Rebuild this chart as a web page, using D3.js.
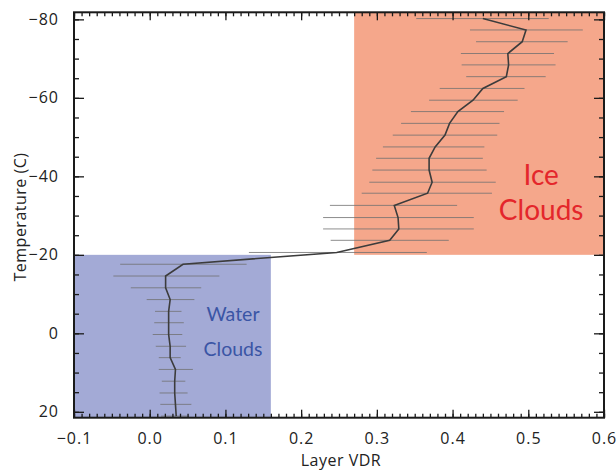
<!DOCTYPE html>
<html lang="en">
<head>
<meta charset="UTF-8">
<title>Layer VDR vs Temperature</title>
<script src="https://d3js.org/d3.v7.min.js"></script>
<style>
    body { margin: 0; background: #fff; }
    text { font-family: "Open Sans", Lato, sans-serif; }
    .region { font-family: Lato, "Open Sans", sans-serif; }
</style>
</head>
<body>
<div id="chart"></div>
<script>
    // temperature levels (C), top to bottom
    const temps = [-80.2, -77.3, -74.3, -71.3, -68.4, -65.4, -62.4, -59.4, -56.5, -53.5,
        -50.5, -47.5, -44.6, -41.6, -38.5, -35.7, -32.6, -29.5, -26.6, -23.7,
        -20.6, -17.6, -14.6, -11.6, -8.6, -5.6, -2.7, 0.3, 3.3, 6.2,
        9.2, 12.2, 15.2, 18.1, 21.1];
    // mean layer VDR
    const vdr = [0.440, 0.497, 0.492, 0.473, 0.474, 0.471, 0.440, 0.427, 0.407, 0.396,
        0.390, 0.377, 0.369, 0.369, 0.373, 0.367, 0.323, 0.328, 0.329, 0.317,
        0.247, 0.044, 0.021, 0.021, 0.027, 0.025, 0.025, 0.025, 0.027, 0.027,
        0.034, 0.033, 0.033, 0.034, 0.035];
    // spread (low / high end of horizontal bars)
    const vdrLow = [0.352, 0.423, 0.431, 0.411, 0.412, 0.418, 0.383, 0.369, 0.345, 0.332,
        0.321, 0.308, 0.299, 0.294, 0.290, 0.280, 0.238, 0.229, 0.229, 0.239,
        0.131, -0.039, -0.048, -0.025, -0.004, 0.007, 0.006, 0.004, 0.008, 0.012,
        0.012, 0.016, 0.013, 0.014, 0.015];
    const vdrHigh = [0.527, 0.572, 0.552, 0.534, 0.536, 0.523, 0.495, 0.486, 0.468, 0.462,
        0.459, 0.442, 0.440, 0.445, 0.457, 0.452, 0.406, 0.428, 0.428, 0.395,
        0.366, 0.128, 0.092, 0.068, 0.059, 0.042, 0.045, 0.043, 0.048, 0.041,
        0.057, 0.047, 0.050, 0.055, 0.052];

    const xTicks = [-0.1, 0.0, 0.1, 0.2, 0.3, 0.4, 0.5, 0.6];
    const yTicks = [-80, -60, -40, -20, 0, 20];

    // shaded regimes: [x0, x1, t0, t1]
    const iceBox = [0.27, 0.6, -20, -81.8];
    const waterBox = [-0.1, 0.16, 21.5, -20];

    const W = 616, H = 471;
    const margin = { top: 12.3, right: 12, bottom: 53.3, left: 74 };
    const width = W - margin.left - margin.right;
    const height = H - margin.top - margin.bottom;

    const svg = d3.select('#chart').append('svg')
        .attr('width', W)
        .attr('height', H);

    const g = svg.append('g')
        .attr('transform', `translate(${margin.left},${margin.top})`);

    const x = d3.scaleLinear().domain([-0.1, 0.6]).range([0, width]);
    const y = d3.scaleLinear().domain([21.5, -81.8]).range([height, 0]);

    g.append('clipPath').attr('id', 'clip')
        .append('rect').attr('width', width).attr('height', height);

    const plot = g.append('g').attr('clip-path', 'url(#clip)');

    // background regions
    plot.append('rect')
        .attr('x', x(iceBox[0]))
        .attr('y', y(iceBox[3]))
        .attr('width', x(iceBox[1]) - x(iceBox[0]))
        .attr('height', y(iceBox[2]) - y(iceBox[3]))
        .attr('fill', '#f5a78b');
    plot.append('rect')
        .attr('x', x(waterBox[0]))
        .attr('y', y(waterBox[3]))
        .attr('width', x(waterBox[1]) - x(waterBox[0]))
        .attr('height', y(waterBox[2]) - y(waterBox[3]))
        .attr('fill', '#a3aad6');

    // horizontal spread bars
    plot.selectAll('.bar')
        .data(temps)
        .enter()
        .append('line')
        .attr('class', 'bar')
        .attr('x1', (d, i) => x(vdrLow[i]))
        .attr('x2', (d, i) => x(vdrHigh[i]))
        .attr('y1', d => y(d))
        .attr('y2', d => y(d))
        .attr('stroke', '#707070')
        .attr('stroke-opacity', 0.8)
        .attr('stroke-width', 1);

    // mean profile
    const line = d3.line()
        .x((d, i) => x(vdr[i]))
        .y(d => y(d));
    plot.append('path')
        .datum(temps)
        .attr('d', line)
        .attr('fill', 'none')
        .attr('stroke', '#3c3c3c')
        .attr('stroke-width', 1.6);

    // labels inside regions
    g.append('text').attr('class', 'region').attr('x', x(0.517)).attr('y', y(-37.8))
        .attr('text-anchor', 'middle').attr('fill', '#e4262b')
        .attr('font-size', 28).text('Ice');
    g.append('text').attr('class', 'region').attr('x', x(0.517)).attr('y', y(-28.9))
        .attr('text-anchor', 'middle').attr('fill', '#e4262b')
        .attr('font-size', 28).text('Clouds');
    g.append('text').attr('class', 'region').attr('x', x(0.110)).attr('y', y(-3.2))
        .attr('text-anchor', 'middle').attr('fill', '#3a55a5')
        .attr('font-size', 19.5).text('Water');
    g.append('text').attr('class', 'region').attr('x', x(0.110)).attr('y', y(5.7))
        .attr('text-anchor', 'middle').attr('fill', '#3a55a5')
        .attr('font-size', 19.5).text('Clouds');

    // axes
    const xMinor = d3.range(-0.1, 0.6001, 0.01);
    const yMinor = d3.range(-80, 20.001, 5);
    const fx = d3.format('.1f');
    const fy = d3.format('d');

    function styleAxis(sel) {
        sel.select('.domain').remove();
        sel.selectAll('line').attr('stroke', '#1a1a1a').attr('stroke-width', 1.3);
        sel.selectAll('text').attr('font-size', 16).attr('fill', '#222')
            .style('letter-spacing', '1px');
    }

    // bottom
    g.append('g').attr('transform', `translate(0,${height})`)
        .call(d3.axisBottom(x).tickValues(xMinor).tickSize(-4).tickFormat(''))
        .call(styleAxis);
    g.append('g').attr('transform', `translate(0,${height})`)
        .call(d3.axisBottom(x).tickValues(xTicks).tickSize(-8).tickPadding(15).tickFormat(fx))
        .call(styleAxis);
    // top
    g.append('g')
        .call(d3.axisTop(x).tickValues(xMinor).tickSize(-4).tickFormat(''))
        .call(styleAxis);
    g.append('g')
        .call(d3.axisTop(x).tickValues(xTicks).tickSize(-8).tickFormat(''))
        .call(styleAxis);
    // left
    g.append('g')
        .call(d3.axisLeft(y).tickValues(yMinor).tickSize(-5).tickFormat(''))
        .call(styleAxis);
    g.append('g')
        .call(d3.axisLeft(y).tickValues(yTicks).tickSize(-10).tickPadding(15).tickFormat(fy))
        .call(styleAxis);
    // right
    g.append('g').attr('transform', `translate(${width},0)`)
        .call(d3.axisRight(y).tickValues(yMinor).tickSize(-5).tickFormat(''))
        .call(styleAxis);
    g.append('g').attr('transform', `translate(${width},0)`)
        .call(d3.axisRight(y).tickValues(yTicks).tickSize(-10).tickFormat(''))
        .call(styleAxis);

    // frame
    g.append('rect')
        .attr('width', width).attr('height', height)
        .attr('fill', 'none').attr('stroke', '#1a1a1a').attr('stroke-width', 2);

    // axis titles
    svg.append('text')
        .attr('x', margin.left + width / 2 + 2)
        .attr('y', 466)
        .attr('text-anchor', 'middle')
        .attr('font-size', 16).attr('fill', '#222')
        .style('letter-spacing', '0.5px')
        .text('Layer VDR');
    svg.append('text')
        .attr('transform', `translate(26,${margin.top + height / 2 + 2}) rotate(-90)`)
        .attr('text-anchor', 'middle')
        .attr('font-size', 16).attr('fill', '#222')
        .style('letter-spacing', '0.5px')
        .text('Temperature (C)');
</script>
</body>
</html>
